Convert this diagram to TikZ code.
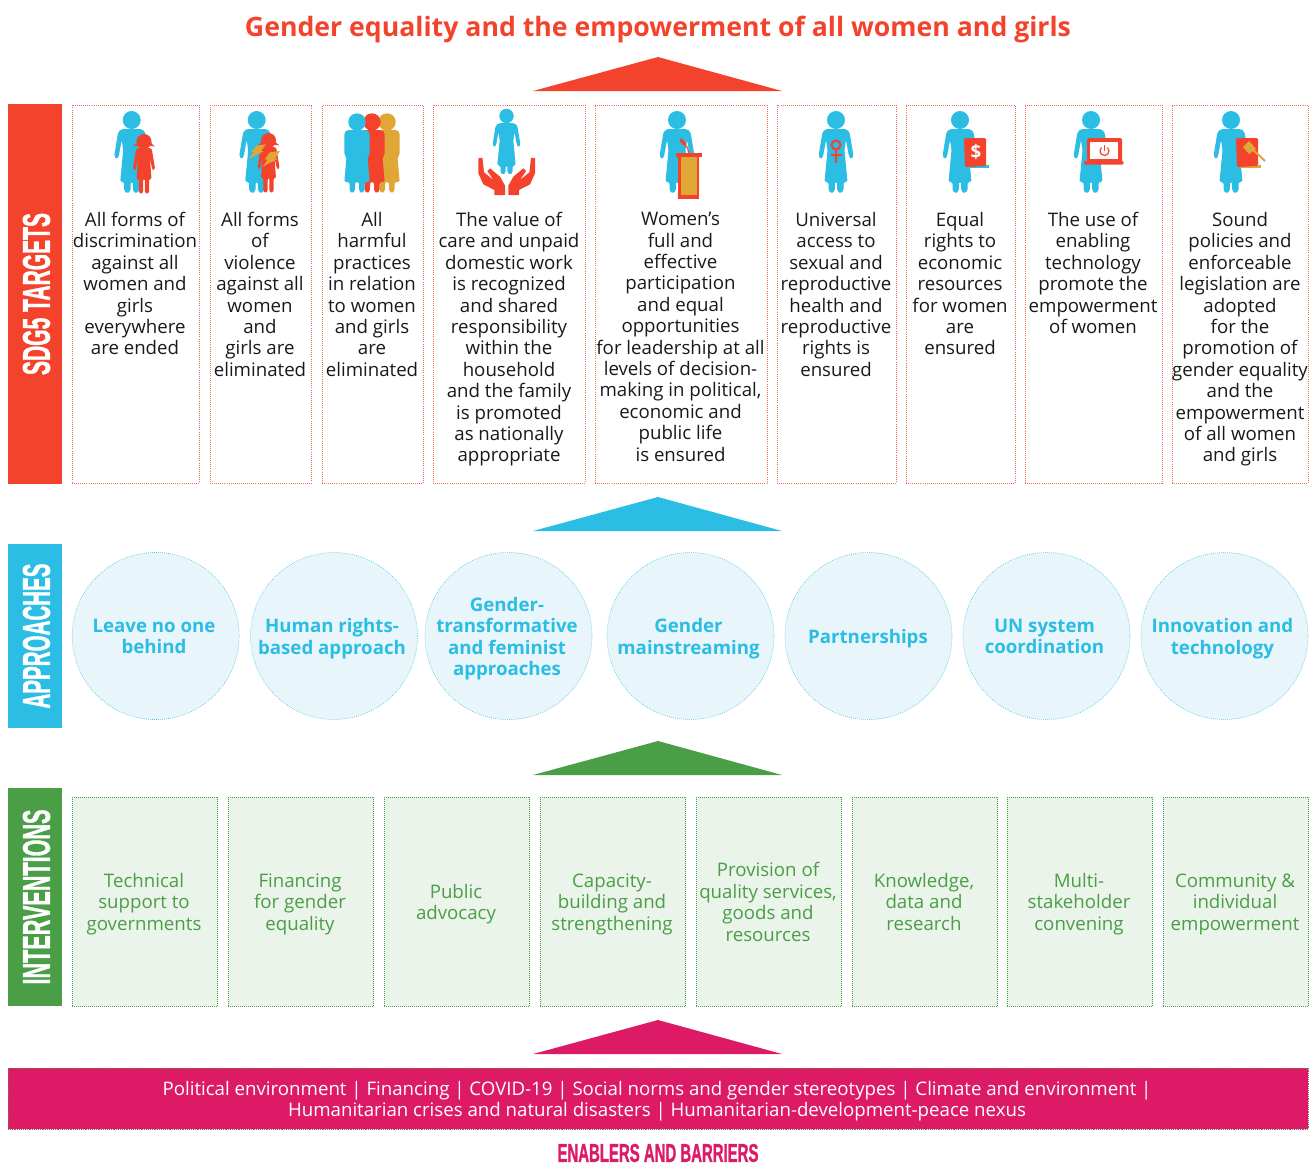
\documentclass[tikz,border=0pt]{standalone}
\usepackage{graphicx}
\usepackage{fontspec}
\setmainfont{Open Sans}
\newfontfamily\capsfont[BoldFeatures={FakeBold=1.5}]{Liberation Sans}
\definecolor{sdgred}{HTML}{F4432C}
\definecolor{sdgblue}{HTML}{2BBDE3}
\definecolor{sdggreen}{HTML}{4A9E45}
\definecolor{sdgpink}{HTML}{DD1A66}
\definecolor{sdggold}{HTML}{E0A737}
\definecolor{paleblue}{HTML}{E8F5FA}
\definecolor{palegreen}{HTML}{EAF4EA}
% condensed heading text: {width}{height}{text}
\newcommand{\capstext}[3]{\resizebox{#1}{#2}{\capsfont\bfseries #3}}
\tikzset{
  bar/.style={fill=#1, inner sep=0pt, outer sep=0pt},
  bartext/.style={text=white, inner sep=0pt, rotate=90},
  targetbox/.style={draw=sdgred!80, densely dotted, line width=0.55pt, inner sep=0pt, outer sep=0pt},
  bodytext/.style={align=center, inner sep=0pt, execute at begin node=\strut, execute at end node=\strut},
  targettext/.style={bodytext, anchor=north, font=\fontsize{14}{16.05}\selectfont, text=black!90},
  approachcircle/.style={circle, draw=sdgblue!90, densely dotted, fill=paleblue, line width=0.5pt,
    minimum size=125.25pt, inner sep=0pt, outer sep=0pt},
  approachtext/.style={bodytext, text=sdgblue, font=\fontsize{14}{16.05}\selectfont\bfseries},
  actionbox/.style={draw=sdggreen, densely dotted, fill=palegreen, line width=0.5pt, inner sep=0pt, outer sep=0pt},
  actiontext/.style={bodytext, text=sdggreen, font=\fontsize{14}{16.05}\selectfont},
  % figures, origin at the centre of the head
  pics/woman/.style={code={
    \fill[pic actions] (0,0) circle (9);
    \fill[pic actions, rounded corners=1.2pt] (0,9) -- (10,9) -- (13.5,12) -- (17.5,36) -- (15,39.5) -- (13,36.5)
      -- (10,20) -- (8.5,30) -- (11.5,62) -- (7.5,62) -- (7.5,71) -- (4.5,73.5) -- (1.2,71) -- (1.2,62)
      -- (-1.2,62) -- (-1.2,71) -- (-4.5,73.5) -- (-7.5,71) -- (-7.5,62) -- (-11.5,62) -- (-8.5,30) -- (-10,20)
      -- (-13,36.5) -- (-15,39.5) -- (-17.5,36) -- (-13.5,12) -- (-10,9) -- cycle;
  }},
  pics/broadwoman/.style={code={
    \fill[pic actions] (0,0) circle (8.7);
    \fill[pic actions, rounded corners=1.2pt] (0,8) -- (10,8) -- (12.7,11) -- (12.7,33) -- (10.5,35) -- (12.7,60)
      -- (7.5,60) -- (7.5,69) -- (4.7,71.5) -- (2,69) -- (2,60) -- (-2,60) -- (-2,69) -- (-4.7,71.5) -- (-7.5,69)
      -- (-7.5,60) -- (-12.7,60) -- (-10.5,35) -- (-12.7,33) -- (-12.7,11) -- (-10,8) -- cycle;
  }},
  pics/girl/.style={code={
    \fill[pic actions] (0,-0.5) circle (7.5);
    \fill[pic actions] (-11,4.5) .. controls (-8,3.5) and (-7,1) .. (-6.5,-3) -- (6.5,-3) .. controls (7,1) and (8,3.5) .. (11,4.5)
      -- (5,3.5) -- (-5,3.5) -- cycle;
    \fill[pic actions, rounded corners=0.8pt] (0,6) -- (6.5,6) -- (8,8) -- (11,26.5) -- (9.5,28.5) -- (8,26.5) -- (5.8,15)
      -- (7.5,37) -- (5.2,37) -- (5.2,50) -- (3,52) -- (0.8,50) -- (0.8,37) -- (-0.8,37) -- (-0.8,50) -- (-3,52)
      -- (-5.2,50) -- (-5.2,37) -- (-7.5,37) -- (-5.8,15) -- (-8,26.5) -- (-9.5,28.5) -- (-11,26.5) -- (-8,8) -- (-6.5,6) -- cycle;
  }},
  pics/hand/.style={code={
    \fill[pic actions] (-85,190) -- (-73,188) -- (-68,232) -- (-40,255) -- (-58,228) -- (-50,220) -- (-20,245) -- (-5,272)
      -- (-5,300) -- (-37,300) -- (-37,285) -- (-70,268) -- (-85,235) -- cycle;
  }},
  pics/book/.style={code={
    \fill[pic actions] (4,165) -- (25,165) -- (25,168) -- (4,168) -- cycle;
    \fill[sdgred, rounded corners=1pt] (0,138) -- (22,138) -- (22,166) -- (1,167) -- cycle;
  }},
}
\begin{document}
\begin{tikzpicture}[x=0.75pt, y=-0.75pt]
\useasboundingbox (0,0) rectangle (1314,1164);

%========================
% title and arrows
%========================
\node[text=sdgred, inner sep=0pt, font=\fontsize{20}{24}\selectfont\bfseries] (title) at (658,29)
  {Gender equality and the empowerment of all women and girls};
\fill[sdgred] (533,91) -- (658,57) -- (782,91) -- cycle;
\fill[sdgblue] (533,531) -- (658,497) -- (782,531) -- cycle;
\fill[sdggreen] (533,775) -- (658,741) -- (782,775) -- cycle;
\fill[sdgpink] (533,1054) -- (658,1020) -- (782,1054) -- cycle;

%========================
% side bars
%========================
\node[bar=sdgred, minimum width=40.5pt, minimum height=285pt] (targetbar) at (35,294) {};
\node[bar=sdgblue, minimum width=40.5pt, minimum height=138pt] (approachbar) at (35,636) {};
\node[bar=sdggreen, minimum width=40.5pt, minimum height=163.5pt] (actionbar) at (35,897) {};
\node[bartext] (targetlabel) at (36.5,294) {\capstext{121.5pt}{20.25pt}{SDG5 TARGETS}};
\node[bartext] (approachlabel) at (36.5,636) {\capstext{108.75pt}{20.25pt}{APPROACHES}};
\node[bartext] (actionlabel) at (36.5,897) {\capstext{131.25pt}{20.25pt}{INTERVENTIONS}};

%========================
% targets
%========================
\foreach \n/\xa/\xb/\xt/\txt in {
  1/72/199/135/{All forms of\\discrimination\\against all\\women and\\girls\\everywhere\\are ended},
  2/210/311.5/260/{All forms\\of\\violence\\against all\\women\\and\\girls are\\eliminated},
  3/322/423/372/{All\\harmful\\practices\\in relation\\to women\\and girls\\are\\eliminated},
  4/433/585/509/{The value of\\care and unpaid\\domestic work\\is recognized\\and shared\\responsibility\\within the\\household\\and the family\\is promoted\\as nationally\\appropriate},
  5/595/767/680.5/{Women’s\\full and\\effective\\participation\\and equal\\opportunities\\for leadership at all\\levels of decision-\\making in political,\\economic and\\public life\\is ensured},
  6/777/896/836/{Universal\\access to\\sexual and\\reproductive\\health and\\reproductive\\rights is\\ensured},
  7/906/1015/960/{Equal\\rights to\\economic\\resources\\for women\\are\\ensured},
  8/1025/1162/1093/{The use of\\enabling\\technology\\promote the\\empowerment\\of women},
  9/1172/1308/1240/{Sound\\policies and\\enforceable\\legislation are\\adopted\\for the\\promotion of\\gender equality\\and the\\empowerment\\of all women\\and girls}}
{
  \node[targetbox, minimum width={(\xb-\xa)*0.75pt}, minimum height=283.5pt] (target\n) at ({(\xa+\xb)/2},294) {};
  \node[targettext] (targettext\n) at (\xt,212) {\txt};
}

%========================
% target icons
%========================
% 1
\pic[fill=sdgblue] at (131.7,120) {woman};
\pic[fill=sdgred] at (144,142) {girl};
% 2
\pic[fill=sdgblue] at (256.7,120) {woman};
\pic[fill=sdgred] at (268.5,141) {girl};
\begin{scope}[shift={(60,95)}, scale=1/3]
  \fill[sdggold] (590,152) -- (618,148) -- (603,168) -- (612,168) -- (565,192) -- (582,172) -- (575,170) -- cycle;
  \fill[sdggold] (630,172) -- (660,168) -- (645,190) -- (655,190) -- (608,215) -- (622,195) -- (615,192) -- cycle;
\end{scope}
% 3
\pic[fill=sdggold] at (387,122) {broadwoman};
\pic[fill=sdgred] at (372,122) {broadwoman};
\pic[fill=sdgblue] at (357,122) {broadwoman};
% 4
\pic[fill=sdgblue, scale=0.8] at (506.5,116) {woman};
\pic[fill=sdgred, scale=1/3] at (506.7,95) {hand};
\pic[fill=sdgred, scale=1/3, xscale=-1] at (506.7,95) {hand};
% 5
\pic[fill=sdgblue] at (677,120) {woman};
\fill[sdgred] (676,153) rectangle (702,157);
\fill[sdgred] (678,157) rectangle (699,199);
\fill[sdggold] (681,157) rectangle (697,195);
\draw[sdgred, line width=2.6pt, line cap=round] (681,140) -- (685,144.5);
\draw[sdgred, line width=0.9pt] (685,145) .. controls (688,147) and (688.5,150) .. (688.5,153);
% 6
\pic[fill=sdgblue] at (836,120) {woman};
\draw[sdgred, line width=1.5pt] (836,145) circle (4.5);
\draw[sdgred, line width=1.5pt] (836,150) -- (836,163) (830.5,154.5) -- (841.5,154.5);
% 7
\pic[fill=sdgblue] at (960,120) {woman};
\pic[fill=sdgblue, shift={(964,0)}] at (0,0) {book};
\node[text=white, inner sep=0pt, font=\fontsize{14}{16}\selectfont\bfseries] (dollar) at (976,152) {\$};
% 8
\pic[fill=sdgblue] at (1091,120) {woman};
\fill[sdgred, rounded corners=1.5pt] (1087,138) rectangle (1122,163);
\fill[white] (1089.5,142) rectangle (1118,159);
\fill[sdgred, rounded corners=0.8pt] (1084,161) rectangle (1123.5,164.5);
\draw[sdgred, line width=0.9pt] (1107.4,147.5) arc [start angle=-50, end angle=230, radius=4.5];
\draw[sdgred, line width=0.9pt] (1104.5,145) -- (1104.5,150.5);
% 9
\pic[fill=sdgblue] at (1231,120) {woman};
\pic[fill=sdggold, shift={(1236,0)}] at (0,0) {book};
\draw[sdggold, line width=1.5pt] (1250,147) -- (1265,161);
\fill[sdggold] (1249,141) -- (1256,149) -- (1249,154) -- (1243,147) -- cycle;

%========================
% approaches
%========================
\foreach \n/\xc/\xt/\txt in {
  1/155.7/154/{Leave no one\\behind},
  2/334/332/{Human rights-\\based approach},
  3/508.5/507/{Gender-\\transformative\\and feminist\\approaches},
  4/690.5/688.5/{Gender\\mainstreaming},
  5/868.5/868/{Partnerships},
  6/1046.5/1044.5/{UN system\\coordination},
  7/1224.5/1222.5/{Innovation and\\technology}}
{
  \node[approachcircle] (approach\n) at (\xc,636) {};
  \node[approachtext] (approachtext\n) at (\xt,639.5) {\txt};
}

%========================
% interventions
%========================
\foreach \n/\xa/\xb/\txt in {
  1/72/218/{Technical\\support to\\governments},
  2/228/374/{Financing\\for gender\\equality},
  3/384/530/{Public\\advocacy},
  4/540/686/{Capacity-\\building and\\strengthening},
  5/696/842/{Provision of\\quality services,\\goods and\\resources},
  6/852/998/{Knowledge,\\data and\\research},
  7/1007/1153/{Multi-\\stakeholder\\convening},
  8/1163/1309/{Community \&\\individual\\empowerment}}
{
  \node[actionbox, minimum width={(\xb-\xa-0.5)*0.75pt}, minimum height=156.75pt] (action\n) at ({(\xa+\xb)/2},901.5) {};
  \node[actiontext] (actiontext\n) at ({(\xa+\xb)/2-1},905) {\txt};
}

%========================
% enablers and barriers
%========================
\node[fill=sdgpink, draw=sdggreen!60!sdgpink, densely dotted, line width=0.4pt, inner sep=0pt, outer sep=0pt,
  minimum width=975pt, minimum height=45.75pt] (enablerbar) at (658,1098.5) {};
\node[bodytext, text=white, font=\fontsize{14}{16.05}\selectfont] (enablertext) at (657,1102)
  {Political environment | Financing | COVID-19 | Social norms and gender stereotypes | Climate and environment |\\
   Humanitarian crises and natural disasters | Humanitarian-development-peace nexus};
\node[inner sep=0pt, text=sdgpink] (enablerlabel) at (658,1153) {\capstext{150.75pt}{13.5pt}{ENABLERS AND BARRIERS}};

\end{tikzpicture}
\end{document}
